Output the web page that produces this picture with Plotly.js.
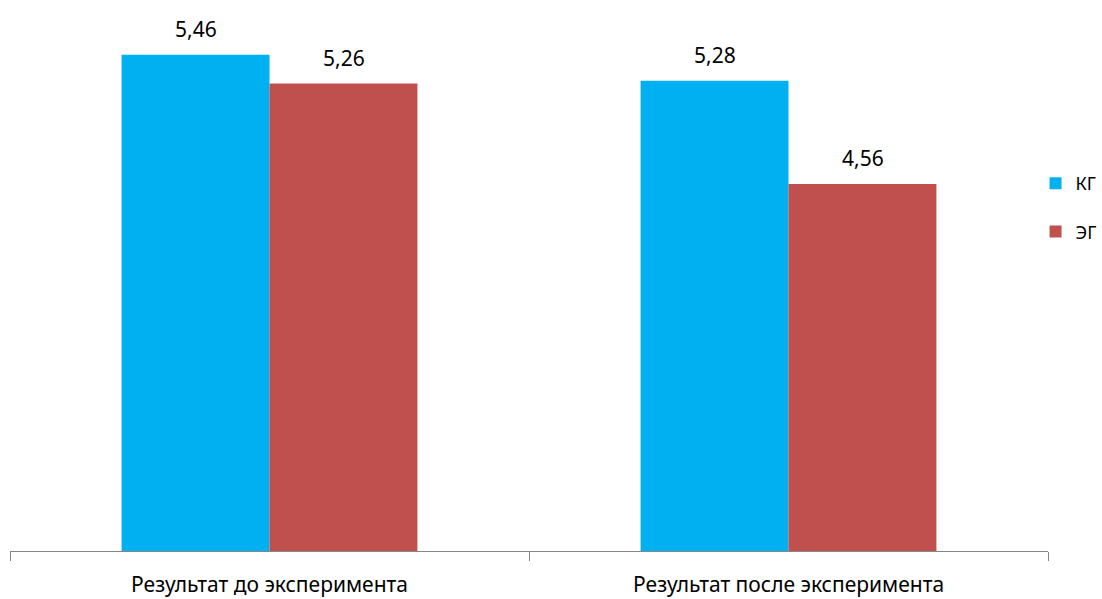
<!DOCTYPE html>
<html>
<head>
<meta charset="utf-8">
<script src="https://cdn.plot.ly/plotly-3.0.1.min.js"></script>
<style>html,body{margin:0;padding:0;background:#fff;}#chart{width:1102px;height:599px;}</style>
</head>
<body>
<div id="chart"></div>
<script>
const categories = ["Результат до эксперимента", "Результат после эксперимента"];
const seriesNames = ["КГ", "ЭГ"];
const kgValues = [5.46, 5.28];
const egValues = [5.26, 4.56];

const fontFamily = "'Noto Sans', 'Open Sans', sans-serif";
function fmt(v){ return v.toFixed(2).replace('.', ','); }

const series = [
  {name:seriesNames[0], values:kgValues, color:'#00B0F0', group:'a'},
  {name:seriesNames[1], values:egValues, color:'#C0504D', group:'b'}
];

const traces = series.map(s => ({
  type:'bar', name:s.name, x:categories, y:s.values, legendgroup:s.group,
  marker:{color:s.color}, hoverinfo:'none'
}));

// value labels above bars
const halfBar = 74;
const annotations = [];
series.forEach((s, i) => {
  s.values.forEach((v, j) => {
    annotations.push({
      x:categories[j], y:v, xref:'x', yref:'y', text:fmt(v), showarrow:false,
      xshift:(i === 0 ? -1 : 1) * halfBar, yanchor:'bottom', yshift:10,
      font:{size:21, color:'#000'}
    });
  });
});

const yMin = 2, pxPerUnit = 143.4, plotH = 541;
const layout = {
  width:1102, height:599,
  margin:{l:10, r:54, t:10, b:48, pad:0, autoexpand:false},
  paper_bgcolor:'#fff', plot_bgcolor:'#fff',
  font:{family:fontFamily, size:21, color:'#000'},
  barmode:'group', bargap:0.43, bargroupgap:0,
  showlegend:true,
  legend:{x:0.988, xanchor:'left', y:0.635, yanchor:'middle', traceorder:'grouped',
          tracegroupgap:22, font:{size:18, color:'#000'}, bgcolor:'rgba(0,0,0,0)',
          borderwidth:0, itemwidth:30},
  annotations:annotations,
  xaxis:{type:'category', showline:true, linecolor:'#868686', linewidth:1,
         ticks:'outside', tickson:'boundaries', ticklen:9, tickcolor:'#868686',
         tickfont:{size:21, color:'#000'}, showgrid:false, zeroline:false,
         ticklabelstandoff:15},
  yaxis:{range:[yMin, yMin + plotH/pxPerUnit], visible:false, showgrid:false, zeroline:false}
};

Plotly.newPlot('chart', traces, layout, {staticPlot:true, displayModeBar:false});
</script>
</body>
</html>
